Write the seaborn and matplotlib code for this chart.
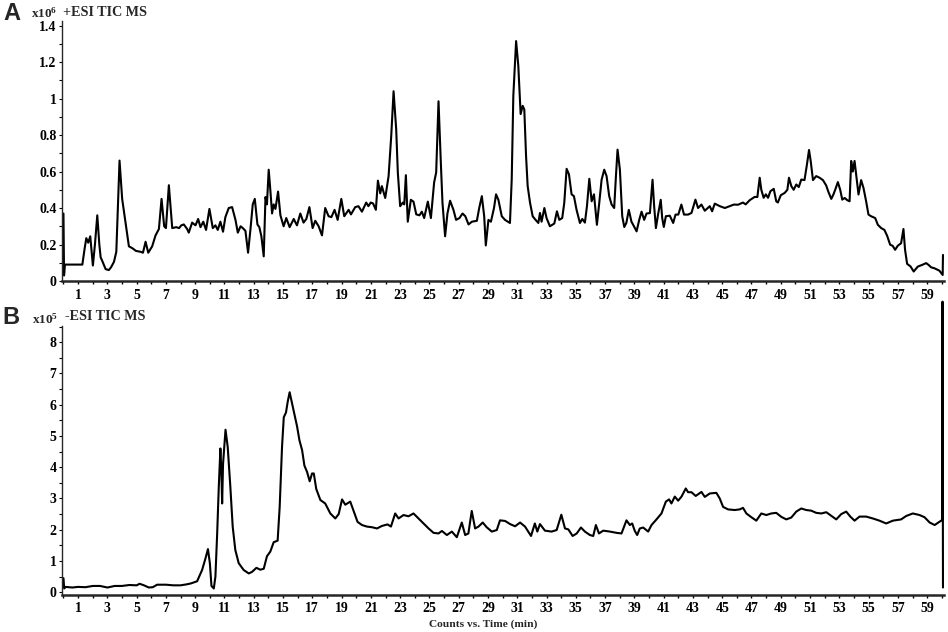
import numpy as np
import pandas as pd
import matplotlib
matplotlib.use("Agg")
import matplotlib.pyplot as plt
import seaborn as sns
from matplotlib.ticker import FixedLocator

# ---------------- data ----------------
# Panel A: +ESI TIC MS, counts in units of 1e6
pos_time = [0.0, 0.04, 0.1, 1.29, 1.45, 1.56, 1.69, 1.83, 2.01, 2.15, 2.31, 2.45, 2.54, 2.65, 2.88, 3.1,
            3.25, 3.45, 3.61, 3.83, 4.01, 4.24, 4.47, 4.7, 4.95, 5.27, 5.43, 5.61, 5.79, 6.06, 6.29, 6.52,
            6.7, 6.88, 7.0, 7.2, 7.43, 7.7, 7.9, 8.05, 8.22, 8.45, 8.56, 8.79, 9.02, 9.2, 9.36, 9.55,
            9.74, 9.97, 10.2, 10.38, 10.54, 10.72, 10.9, 11.06, 11.29, 11.52, 11.75, 11.91, 12.1, 12.25,
            12.43, 12.61, 12.77, 12.93, 13.07, 13.25, 13.38, 13.52, 13.68, 13.8, 13.9, 14.02, 14.13, 14.25,
            14.36, 14.48, 14.66, 14.82, 15.04, 15.22, 15.45, 15.73, 15.95, 16.18, 16.4, 16.59, 16.8, 17.02,
            17.2, 17.43, 17.66, 17.88, 18.11, 18.3, 18.52, 18.73, 18.98, 19.18, 19.48, 19.64, 19.93, 20.15,
            20.39, 20.68, 20.83, 20.99, 21.15, 21.34, 21.48, 21.64, 21.75, 21.98, 22.21, 22.39, 22.55, 22.73,
            22.84, 23.0, 23.18, 23.28, 23.39, 23.52, 23.73, 23.91, 24.1, 24.32, 24.48, 24.64, 24.89, 25.1,
            25.32, 25.46, 25.62, 25.78, 25.89, 26.07, 26.23, 26.41, 26.64, 26.82, 27.05, 27.26, 27.45, 27.67,
            27.9, 28.24, 28.4, 28.58, 28.74, 28.85, 29.03, 29.2, 29.41, 29.55, 29.71, 29.94, 30.16, 30.5,
            30.62, 30.73, 30.92, 31.07, 31.23, 31.37, 31.48, 31.6, 31.71, 31.87, 32.05, 32.25, 32.44, 32.55,
            32.66, 32.85, 33.0, 33.23, 33.53, 33.71, 33.87, 34.07, 34.21, 34.37, 34.53, 34.71, 34.87, 35.05,
            35.28, 35.44, 35.62, 35.76, 35.92, 36.08, 36.24, 36.44, 36.6, 36.76, 36.94, 37.1, 37.28, 37.44,
            37.62, 37.74, 37.85, 38.01, 38.17, 38.31, 38.45, 38.62, 38.8, 38.97, 39.15, 39.33, 39.49, 39.67,
            39.83, 40.06, 40.24, 40.35, 40.47, 40.63, 40.8, 40.9, 41.01, 41.15, 41.42, 41.65, 41.81, 42.0,
            42.21, 42.39, 42.67, 42.9, 43.17, 43.35, 43.58, 43.81, 44.15, 44.31, 44.49, 44.84, 45.18, 45.5,
            45.8, 46.08, 46.42, 46.6, 46.88, 47.22, 47.4, 47.56, 47.67, 47.83, 47.98, 48.13, 48.29, 48.52,
            48.69, 48.8, 49.0, 49.27, 49.45, 49.56, 49.72, 49.88, 50.06, 50.23, 50.4, 50.62, 50.79, 50.93,
            51.04, 51.2, 51.42, 51.65, 51.88, 52.1, 52.26, 52.45, 52.6, 52.74, 52.9, 53.06, 53.2, 53.37,
            53.54, 53.7, 53.81, 53.92, 54.04, 54.15, 54.31, 54.49, 54.65, 54.83, 54.99, 55.17, 55.45, 55.63,
            55.86, 56.08, 56.27, 56.47, 56.64, 56.81, 56.99, 57.22, 57.38, 57.49, 57.63, 57.86, 58.08, 58.36,
            58.65, 58.93, 59.1, 59.27, 59.49, 59.83, 60.06, 60.08]
pos_counts = [0.37, 0.03, 0.09, 0.09, 0.18, 0.235, 0.21, 0.245, 0.085, 0.2, 0.36, 0.2, 0.13, 0.11, 0.065, 0.06,
              0.075, 0.105, 0.16, 0.66, 0.45, 0.32, 0.19, 0.18, 0.165, 0.16, 0.155, 0.215, 0.155, 0.19, 0.25, 0.285,
              0.45, 0.3, 0.29, 0.525, 0.29, 0.295, 0.29, 0.305, 0.31, 0.285, 0.265, 0.32, 0.305, 0.34, 0.295, 0.325,
              0.28, 0.395, 0.29, 0.305, 0.28, 0.325, 0.27, 0.35, 0.4, 0.405, 0.335, 0.265, 0.3, 0.29,
              0.275, 0.155, 0.28, 0.42, 0.45, 0.31, 0.295, 0.245, 0.135, 0.46, 0.42, 0.61, 0.5, 0.37,
              0.42, 0.395, 0.49, 0.36, 0.30, 0.345, 0.295, 0.34, 0.305, 0.37, 0.32, 0.34, 0.405, 0.29,
              0.33, 0.3, 0.25, 0.4, 0.355, 0.35, 0.39, 0.335, 0.45, 0.355, 0.39, 0.365, 0.405, 0.41,
              0.38, 0.43, 0.41, 0.43, 0.425, 0.39, 0.55, 0.48, 0.52, 0.455, 0.575, 0.795, 1.04, 0.83,
              0.595, 0.41, 0.43, 0.42, 0.58, 0.325, 0.445, 0.435, 0.365, 0.36, 0.38, 0.345, 0.435, 0.345,
              0.54, 0.595, 0.985, 0.645, 0.43, 0.245, 0.37, 0.44, 0.39, 0.335, 0.345, 0.37, 0.355, 0.31,
              0.325, 0.33, 0.4, 0.465, 0.355, 0.195, 0.335, 0.325, 0.4, 0.475, 0.445, 0.355, 0.335, 0.318,
              0.555, 1.015, 1.315, 1.18, 0.915, 0.96, 0.94, 0.685, 0.52, 0.43, 0.355, 0.335, 0.318, 0.373,
              0.325, 0.4, 0.345, 0.3, 0.315, 0.382, 0.335, 0.345, 0.428, 0.615, 0.585, 0.475, 0.465, 0.39,
              0.318, 0.34, 0.32, 0.41, 0.56, 0.437, 0.475, 0.308, 0.428, 0.555, 0.61, 0.575, 0.465, 0.42,
              0.4, 0.575, 0.72, 0.61, 0.355, 0.296, 0.318, 0.39, 0.325, 0.3, 0.272, 0.335, 0.38, 0.335,
              0.37, 0.372, 0.555, 0.41, 0.29, 0.37, 0.445, 0.345, 0.296, 0.355, 0.358, 0.318, 0.364, 0.364,
              0.419, 0.364, 0.364, 0.373, 0.446, 0.4, 0.419, 0.385, 0.41, 0.382, 0.424, 0.41, 0.4, 0.41,
              0.419, 0.418, 0.43, 0.42, 0.443, 0.461, 0.46, 0.566, 0.5, 0.456, 0.475, 0.456, 0.492, 0.505,
              0.437, 0.43, 0.47, 0.483, 0.5, 0.566, 0.52, 0.5, 0.529, 0.515, 0.556, 0.553, 0.64, 0.718,
              0.66, 0.553, 0.575, 0.566, 0.553, 0.524, 0.487, 0.45, 0.475, 0.505, 0.542, 0.5, 0.446, 0.455,
              0.443, 0.437, 0.658, 0.6, 0.658, 0.585, 0.474, 0.553, 0.51, 0.437, 0.364, 0.355, 0.345, 0.308,
              0.29, 0.28, 0.247, 0.199, 0.193, 0.171, 0.193, 0.207, 0.285, 0.171, 0.094, 0.08, 0.052, 0.079,
              0.088, 0.098, 0.088, 0.075, 0.07, 0.057, 0.033, 0.143]

# Panel B: -ESI TIC MS, counts in units of 1e5
neg_time = [0.0, 0.05, 0.15, 0.6, 1.0, 1.5, 2.0, 2.5, 3.0, 3.5, 4.0, 4.5, 5.0, 5.2, 5.5, 5.83, 6.1, 6.4,
            7.0, 7.5, 8.0, 8.4, 8.7, 9.13, 9.47, 9.7, 9.87, 10.0, 10.11, 10.27, 10.38, 10.5, 10.61, 10.72,
            10.79, 10.84, 10.9, 11.07, 11.22, 11.4, 11.56, 11.74, 11.97, 12.31, 12.66, 12.88, 13.18, 13.45,
            13.68, 13.9, 14.13, 14.36, 14.63, 14.77, 14.93, 15.05, 15.2, 15.32, 15.45, 15.61, 15.77, 15.96,
            16.12, 16.3, 16.46, 16.64, 16.82, 16.98, 17.1, 17.27, 17.55, 17.88, 18.23, 18.57, 18.8, 19.03,
            19.25, 19.59, 19.82, 20.09, 20.39, 20.73, 21.07, 21.42, 21.75, 22.14, 22.37, 22.66, 22.89, 23.23,
            23.57, 23.91, 24.25, 24.6, 24.94, 25.28, 25.62, 25.85, 26.19, 26.53, 26.87, 27.21, 27.44, 27.66,
            27.89, 28.12, 28.35, 28.64, 28.91, 29.26, 29.6, 29.82, 30.17, 30.51, 30.85, 31.19, 31.53, 31.94,
            32.2, 32.37, 32.55, 32.89, 33.35, 33.69, 34.01, 34.26, 34.49, 34.78, 35.06, 35.35, 35.62, 35.96,
            36.19, 36.37, 36.58, 36.87, 37.33, 37.78, 38.12, 38.46, 38.69, 38.85, 39.03, 39.19, 39.37, 39.6,
            39.94, 40.17, 40.51, 40.85, 41.15, 41.37, 41.53, 41.76, 41.99, 42.22, 42.51, 42.67, 42.9, 43.19,
            43.58, 43.81, 44.15, 44.6, 44.83, 45.06, 45.4, 45.85, 46.19, 46.42, 46.65, 46.99, 47.33, 47.67,
            48.01, 48.35, 48.69, 49.04, 49.38, 49.72, 50.06, 50.4, 50.74, 51.08, 51.42, 51.77, 52.11, 52.38,
            52.79, 53.13, 53.47, 53.75, 54.04, 54.38, 54.83, 55.29, 55.74, 56.2, 56.66, 57.22, 57.57, 58.02,
            58.48, 58.82, 59.17, 59.51, 59.83, 60.02, 60.05, 60.08]
neg_counts = [0.45, 0.12, 0.17, 0.15, 0.17, 0.16, 0.2, 0.2, 0.15, 0.2, 0.2, 0.23, 0.22, 0.27, 0.22, 0.15, 0.16, 0.24,
              0.24, 0.22, 0.22, 0.25, 0.28, 0.35, 0.71, 1.08, 1.38, 0.93, 0.2, 0.12, 0.5, 1.88, 3.37, 4.6,
              3.8, 2.84, 4.1, 5.2, 4.65, 3.37, 2.1, 1.35, 0.93, 0.71, 0.6, 0.65, 0.78, 0.72,
              0.75, 1.15, 1.3, 1.6, 1.65, 2.73, 4.65, 5.6, 5.75, 6.1, 6.4, 6.05, 5.7, 5.3,
              4.86, 4.55, 4.05, 3.85, 3.55, 3.8, 3.8, 3.3, 2.95, 2.84, 2.52, 2.36, 2.5, 2.97,
              2.8, 2.9, 2.6, 2.25, 2.15, 2.1, 2.08, 2.04, 2.12, 2.17, 2.1, 2.52, 2.36, 2.47,
              2.43, 2.52, 2.36, 2.2, 2.04, 1.9, 1.88, 1.96, 1.83, 1.94, 1.76, 2.23, 1.83, 1.88,
              2.6, 2.04, 2.1, 2.23, 2.08, 1.94, 1.99, 2.3, 2.28, 2.18, 2.11, 2.23, 2.1, 1.8,
              2.2, 1.94, 2.18, 1.97, 1.94, 1.99, 2.48, 2.04, 2.01, 1.8, 1.88, 2.07, 1.94, 1.83,
              1.8, 2.15, 1.88, 1.97, 1.94, 1.9, 1.88, 2.3, 2.15, 2.2, 1.96, 1.83, 2.04, 2.07,
              1.94, 2.15, 2.33, 2.52, 2.9, 2.97, 2.84, 3.06, 2.93, 3.06, 3.32, 3.2, 3.2, 3.08,
              3.21, 3.05, 3.16, 3.18, 3.0, 2.73, 2.65, 2.63, 2.65, 2.7, 2.52, 2.4, 2.29, 2.52,
              2.47, 2.52, 2.54, 2.41, 2.33, 2.39, 2.58, 2.68, 2.63, 2.61, 2.54, 2.52, 2.56, 2.47,
              2.33, 2.5, 2.58, 2.42, 2.29, 2.42, 2.42, 2.36, 2.29, 2.2, 2.29, 2.33, 2.44, 2.52,
              2.47, 2.4, 2.23, 2.15, 2.25, 2.31, 9.3, 0.15]

x_major_ticks = list(range(1, 60, 2))
x_minor_ticks = list(range(0, 61, 2))
a_yticks = [0, 0.2, 0.4, 0.6, 0.8, 1.0, 1.2, 1.4]
a_ylabels = ["0", "0.2", "0.4", "0.6", "0.8", "1", "1.2", "1.4"]
b_yticks = [0, 1, 2, 3, 4, 5, 6, 7, 8]
b_ylabels = ["0", "1", "2", "3", "4", "5", "6", "7", "8"]

dfA = pd.DataFrame({"time": pos_time, "counts": pos_counts})
dfB = pd.DataFrame({"time": neg_time, "counts": neg_counts})

# ---------------- style ----------------
sns.set_theme(style="ticks")
plt.rcParams["font.family"] = ["Liberation Serif", "DejaVu Serif"]
plt.rcParams["font.weight"] = "bold"
plt.rcParams["mathtext.fontset"] = "custom"
plt.rcParams["mathtext.rm"] = "Liberation Serif:bold"
plt.rcParams["mathtext.default"] = "rm"

W, H = 948, 632
fig = plt.figure(figsize=(W / 100, H / 100), dpi=100)
axA = fig.add_axes([62 / W, 1 - 281 / H, (944 - 62) / W, (281 - 21) / H])
axB = fig.add_axes([62 / W, 1 - 594.7 / H, (944 - 62) / W, (594.7 - 326) / H])

sns.lineplot(data=dfA, x="time", y="counts", ax=axA, color="black", linewidth=1.5,
             sort=False, estimator=None)
sns.lineplot(data=dfB, x="time", y="counts", ax=axB, color="black", linewidth=1.5,
             sort=False, estimator=None)
axB.lines[0].set_clip_on(False)
axA.lines[0].set_clip_on(False)

for ax, yt, yl, ylim, yminor in [(axA, a_yticks, a_ylabels, (0, 1.425), 0.1),
                                  (axB, b_yticks, b_ylabels, (-0.08, 8.52), 0.5)]:
    ax.set_xlim(-0.1, 60.15)
    ax.set_ylim(*ylim)
    ax.set_xlabel("")
    ax.set_ylabel("")
    ax.xaxis.set_major_locator(FixedLocator(x_major_ticks))
    ax.xaxis.set_minor_locator(FixedLocator(x_minor_ticks))
    ax.set_xticks(x_major_ticks)
    ax.set_xticklabels([str(v) for v in x_major_ticks])
    ax.set_yticks(yt)
    ax.set_yticklabels(yl)
    ax.yaxis.set_minor_locator(FixedLocator(list(np.arange(0, ylim[1], yminor))))
    for s in ["top", "right"]:
        ax.spines[s].set_visible(False)
    ax.spines["bottom"].set_linewidth(1.8)
    ax.spines["left"].set_linewidth(1.0)
    ax.tick_params(axis="x", which="both", direction="out", length=2.5, width=1.0,
                   pad=3.0, labelsize=10, colors="black")
    ax.tick_params(axis="y", which="both", direction="out", length=2.5, width=0.8,
                   pad=1.5, labelsize=10, colors="black")
    for lab in ax.get_xticklabels() + ax.get_yticklabels():
        lab.set_fontweight("bold")

# ---------------- annotations ----------------
sans = ["Liberation Sans", "DejaVu Sans"]
fig.text(3 / W, 1 - 14 / H, "A", fontsize=17, fontweight="bold", family=sans, ha="left", va="center")
fig.text(2 / W, 1 - 318 / H, "B", fontsize=17, fontweight="bold", family=sans, ha="left", va="center")
fig.text(31 / W, 1 - 13 / H, r"x10$^{6}$", fontsize=9.5, fontweight="bold", ha="left", va="center")
fig.text(32 / W, 1 - 319 / H, r"x10$^{5}$", fontsize=9.5, fontweight="bold", ha="left", va="center")
fig.text(63 / W, 1 - 12 / H, "+ESI TIC MS", fontsize=10.2, fontweight="bold", ha="left", va="center")
fig.text(65 / W, 1 - 316 / H, "-ESI TIC MS", fontsize=10.2, fontweight="bold", ha="left", va="center")
fig.text(483 / W, 1 - 624 / H, "Counts vs. Time (min)", fontsize=8.2, fontweight="bold",
         ha="center", va="center")

fig.savefig("out.png", dpi=100, facecolor="white")
